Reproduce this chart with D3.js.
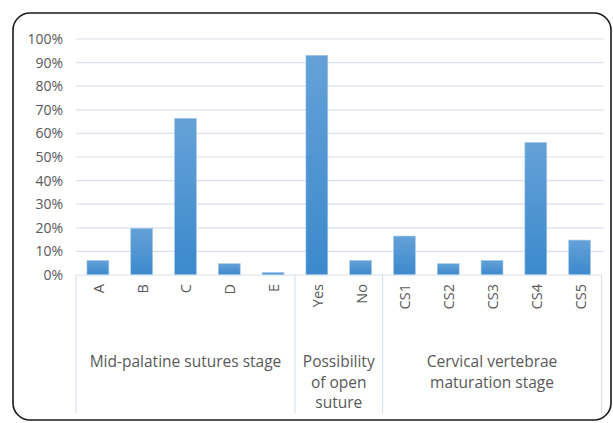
<!DOCTYPE html>
<html><head><meta charset="utf-8">
<script src="https://cdn.jsdelivr.net/npm/d3@7/dist/d3.min.js"></script>
<style>body{margin:0;background:#fff}svg{display:block}text{font-family:"Open Sans",sans-serif;fill:#595959}</style>
</head><body><svg id="c" width="613" height="423"></svg>
<script>
const categories = ["A","B","C","D","E","Yes","No","CS1","CS2","CS3","CS4","CS5"];
const values = [6.2,19.8,66.4,4.8,1.1,93.1,6.2,16.5,4.8,6.2,56.2,14.8];
const groups = [
  {name:["Mid-palatine sutures stage"], from:0, to:4},
  {name:["Possibility","of open","suture"], from:5, to:6},
  {name:["Cervical vertebrae","maturation stage"], from:7, to:11}
];
const yTicks = [0,10,20,30,40,50,60,70,80,90,100];

const svg = d3.select("#c");
const L=76, R=601.5, T=39, B=275;
const x = d3.scaleBand().domain(categories).range([L,R]).paddingInner(0.5).paddingOuter(0.25);
const y = d3.scaleLinear().domain([0,100]).range([B,T]);

const defs = svg.append("defs");
const g = defs.append("linearGradient").attr("id","bg").attr("x1",0).attr("y1",0).attr("x2",0).attr("y2",1);
g.append("stop").attr("offset","0%").attr("stop-color","#65a1d8");
g.append("stop").attr("offset","100%").attr("stop-color","#3b89cc");

// border
svg.append("rect").attr("x",13).attr("y",13).attr("width",598).attr("height",407)
  .attr("rx",17).attr("fill","none").attr("stroke","#1a1a1a").attr("stroke-width",1.6);

// gridlines
svg.append("g").selectAll("line").data(yTicks.slice(1)).join("line")
  .attr("x1",L).attr("x2",R+2).attr("y1",d=>y(d)).attr("y2",d=>y(d))
  .attr("stroke","#d9e2ec").attr("stroke-width",1.2);

// y axis labels
const ya = svg.append("g").attr("transform",`translate(${L},0)`)
  .call(d3.axisLeft(y).tickValues(yTicks).tickSize(0).tickPadding(13).tickFormat(d=>d+"%"));
ya.select(".domain").remove();
ya.selectAll("text").style("font-size","14px").style("fill","#595959").style("font-family","Open Sans");

// bars
svg.append("g").selectAll("rect").data(categories).join("rect")
  .attr("x",d=>x(d)).attr("width",x.bandwidth())
  .attr("y",(d,i)=>y(values[i])).attr("height",(d,i)=>B-y(values[i]))
  .attr("fill","url(#bg)").attr("stroke","#a9cbea").attr("stroke-width",0.6);

// x axis line
svg.append("line").attr("x1",L).attr("x2",R).attr("y1",B).attr("y2",B)
  .attr("stroke","#d9e2ec").attr("stroke-width",1.2);

// group separators
const sepX = [L, ...groups.map(gr=> gr.to===categories.length-1 ? R : (x(categories[gr.to])+x.bandwidth()+x(categories[gr.to+1]))/2)];
svg.append("g").selectAll("line").data(sepX).join("line")
  .attr("x1",d=>d).attr("x2",d=>d).attr("y1",B).attr("y2",413)
  .attr("stroke","#d9e2ec").attr("stroke-width",1.2);

// category labels
svg.append("g").selectAll("text").data(categories).join("text")
  .attr("transform",d=>`translate(${x(d)+x.bandwidth()/2+6},284) rotate(-90)`)
  .attr("text-anchor","end").style("font-size","14.5px").text(d=>d);

// group labels
groups.forEach((gr,gi)=>{
  const cx = (sepX[gi]+sepX[gi+1])/2;
  const t = svg.append("text").attr("x",cx).attr("y",367).attr("text-anchor","middle").style("font-size","15.5px");
  gr.name.forEach((ln,li)=>t.append("tspan").attr("x",cx).attr("dy",li===0?0:20.5).text(ln));
});
</script></body></html>
